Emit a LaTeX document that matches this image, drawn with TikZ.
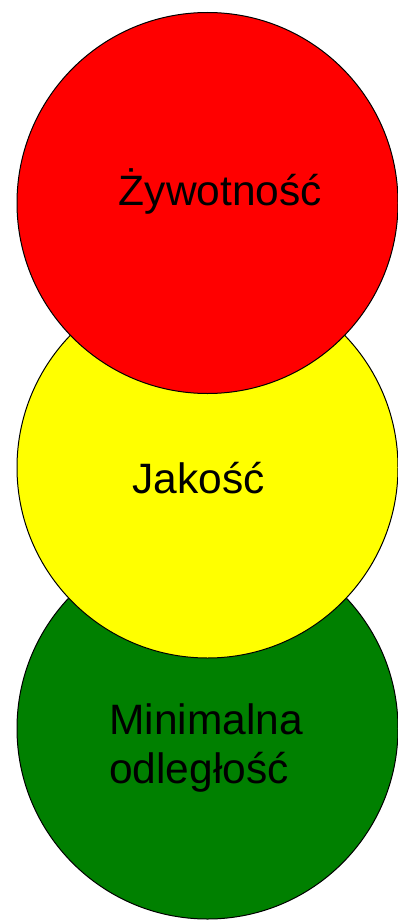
\documentclass[tikz,border=0pt]{standalone}
\usepackage{fontspec}
\setmainfont{Liberation Sans}
\definecolor{cred}{HTML}{FF0000}
\definecolor{cyellow}{HTML}{FFFF00}
\definecolor{cgreen}{HTML}{008000}
\begin{document}
\begin{tikzpicture}[x=1pt,y=-1pt,
  disc/.style={circle,draw=black,line width=1pt,inner sep=0pt,minimum size=381pt},
  lbl/.style={inner sep=0pt,font=\fontsize{42.5pt}{49pt}\selectfont,text=black}]
\useasboundingbox (0,0) rectangle (398,920);
\node[disc,fill=cgreen] (green) at (207.5,728.5) {};
\node[disc,fill=cyellow] (yellow) at (207.5,467.5) {};
\node[disc,fill=cred] (red) at (207.5,203) {};
\node[lbl,anchor=base] (t1) at (220.5,205) {Żywotność};
\node[lbl,anchor=base] (t2) at (198.5,493) {Jakość};
\node[lbl,anchor=base west] (t3) at (109,734) {Minimalna};
\node[lbl,anchor=base west] (t4) at (109,783) {odległość};
\end{tikzpicture}
\end{document}
